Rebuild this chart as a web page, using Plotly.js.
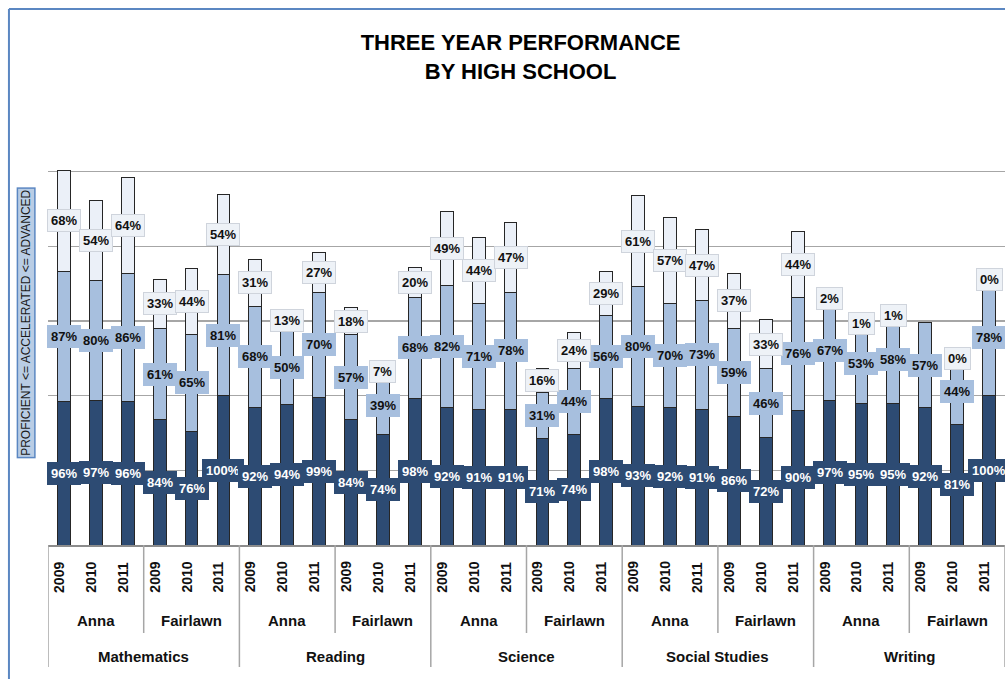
<!DOCTYPE html>
<html><head><meta charset="utf-8">
<script src="https://cdn.plot.ly/plotly-3.0.1.min.js"></script>
<style>html,body{margin:0;padding:0;background:#fff;} #chart{width:1005px;height:679px;}</style>
</head><body><div id="chart"></div>
<script>
const subjects = ['Mathematics','Reading','Science','Social Studies','Writing'];
const schools = ['Anna','Fairlawn'];
const years = ['2009','2010','2011'];
// order: subject -> school -> year
const proficient  = [96,97,96, 84,76,100, 92,94,99, 84,74,98, 92,91,91, 71,74,98, 93,92,91, 86,72,90, 97,95,95, 92,81,100];
const accelerated = [87,80,86, 61,65,81, 68,50,70, 57,39,68, 82,71,78, 31,44,56, 80,70,73, 59,46,76, 67,53,58, 57,44,78];
const advanced    = [68,54,64, 33,44,54, 31,13,27, 18,7,20, 49,44,47, 16,24,29, 61,57,47, 37,33,44, 2,1,1, null,0,0];
const chartTitle = 'THREE YEAR PERFORMANCE<br>BY HIGH SCHOOL';
const yTitle = 'PROFICIENT <= ACCELERATED <= ADVANCED';

const FONT = 'Liberation Sans, Arial, sans-serif';
const C_DARK = '#2d4b73', C_MED = '#a7bfde', C_LIGHT = '#ebf0f8';

const xIdx = [];
subjects.forEach((s, si) => schools.forEach((sc, ci) => years.forEach((y, yi) => {
  xIdx.push(si * schools.length * years.length + ci * years.length + yi);
})));

const barLine = {color: '#262626', width: 1};
const traces = [
  {type: 'bar', x: xIdx, y: proficient, marker: {color: C_DARK, line: barLine}, width: 0.4, hoverinfo: 'skip'},
  {type: 'bar', x: xIdx, y: accelerated, marker: {color: C_MED, line: barLine}, width: 0.4, hoverinfo: 'skip'},
  {type: 'bar', x: xIdx, y: advanced, marker: {color: C_LIGHT, line: barLine}, width: 0.4, hoverinfo: 'skip'}
];

const ann = [];
function segLabels(vals, bases, bg, border, txtColor) {
  vals.forEach((v, i) => {
    if (v === null || v === undefined) return;
    ann.push({xref: 'x', yref: 'y', x: xIdx[i], y: bases[i] + v / 2, text: '<b>' + v + '%</b>',
      xanchor: 'center', yanchor: 'middle',
      showarrow: false, font: {family: FONT, size: 13, color: txtColor},
      bgcolor: bg, bordercolor: border, borderwidth: 1, borderpad: 3});
  });
}
const base0 = proficient.map(() => 0);
const base1 = proficient.map((v) => v);
const base2 = proficient.map((v, i) => v + accelerated[i]);
segLabels(proficient, base0, C_DARK, C_DARK, '#ffffff');
segLabels(accelerated, base1, C_MED, C_MED, '#111111');
segLabels(advanced, base2, '#eef2f7', '#cfd4dc', '#111111');

// category axis labels (3 levels)
const yYear = -0.0714, ySchool = -0.1696, ySubject = -0.2478;
const yCutSchool = -0.1964, yCutSubject = -0.2723;
const shapes = [];
const nY = years.length, nG = schools.length * years.length;
xIdx.forEach((xi, i) => {
  ann.push({xref: 'x', yref: 'paper', x: xi, y: yYear, xshift: -5, text: '<b>' + years[i % nY] + '</b>',
    xanchor: 'center', yanchor: 'middle',
    textangle: -90, showarrow: false, font: {family: FONT, size: 14, color: '#111'}});
});
subjects.forEach((s, si) => {
  ann.push({xref: 'x', yref: 'paper', x: si * nG + (nG - 1) / 2, y: ySubject, text: '<b>' + s + '</b>',
    xanchor: 'center', yanchor: 'middle',
    showarrow: false, font: {family: FONT, size: 15, color: '#111'}});
  schools.forEach((sc, ci) => {
    ann.push({xref: 'x', yref: 'paper', x: si * nG + ci * nY + (nY - 1) / 2, y: ySchool, text: '<b>' + sc + '</b>',
      xanchor: 'center', yanchor: 'middle',
      showarrow: false, font: {family: FONT, size: 15, color: '#111'}});
  });
});
for (let k = 0; k <= subjects.length * schools.length; k++) {
  const xb = -0.5 + k * nY;
  shapes.push({type: 'line', xref: 'x', yref: 'paper', x0: xb, x1: xb, y0: 0,
    y1: (k % schools.length === 0) ? yCutSubject : yCutSchool, line: {color: '#a6a6a6', width: 1.5}});
}
// outer frame (left and top)
shapes.push({type: 'line', xref: 'paper', yref: 'paper', x0: -0.0408, x1: -0.0408, y0: 1.1964, y1: -0.4, line: {color: '#5b87c2', width: 2}});
shapes.push({type: 'line', xref: 'paper', yref: 'paper', x0: -0.0408, x1: 1.1, y0: 1.1964, y1: 1.1964, line: {color: '#5b87c2', width: 2}});

// y-axis title box
ann.push({xref: 'paper', yref: 'paper', x: -0.023, y: 0.497, xanchor: 'center', yanchor: 'middle',
  text: yTitle, textangle: -90, showarrow: false,
  font: {family: FONT, size: 12, color: '#1a1a1a'}, bgcolor: '#b9cde5', bordercolor: '#5b87c2', borderwidth: 1.5, borderpad: 1});

const layout = {
  width: 1005, height: 679,
  margin: {l: 48, r: 0, t: 97, b: 134},
  paper_bgcolor: '#ffffff', plot_bgcolor: '#ffffff',
  barmode: 'stack', showlegend: false,
  title: {text: '<b>' + chartTitle + '</b>', font: {family: FONT, size: 22, color: '#000'},
    x: 0.518, xref: 'container', xanchor: 'center', y: 0.926, yref: 'container', yanchor: 'middle'},
  xaxis: {type: 'linear', range: [-0.5, 29.5], showticklabels: false, showgrid: false, zeroline: false,
    showline: true, linecolor: '#8c8c8c', linewidth: 1.5, ticks: ''},
  yaxis: {range: [0, 300], dtick: 50, showticklabels: false, showgrid: true, gridcolor: '#a6a6a6', gridwidth: 1.3,
    zeroline: false, showline: false, ticks: ''},
  annotations: ann, shapes: shapes
};
Plotly.newPlot('chart', traces, layout, {displayModeBar: false, staticPlot: true});
</script></body></html>
